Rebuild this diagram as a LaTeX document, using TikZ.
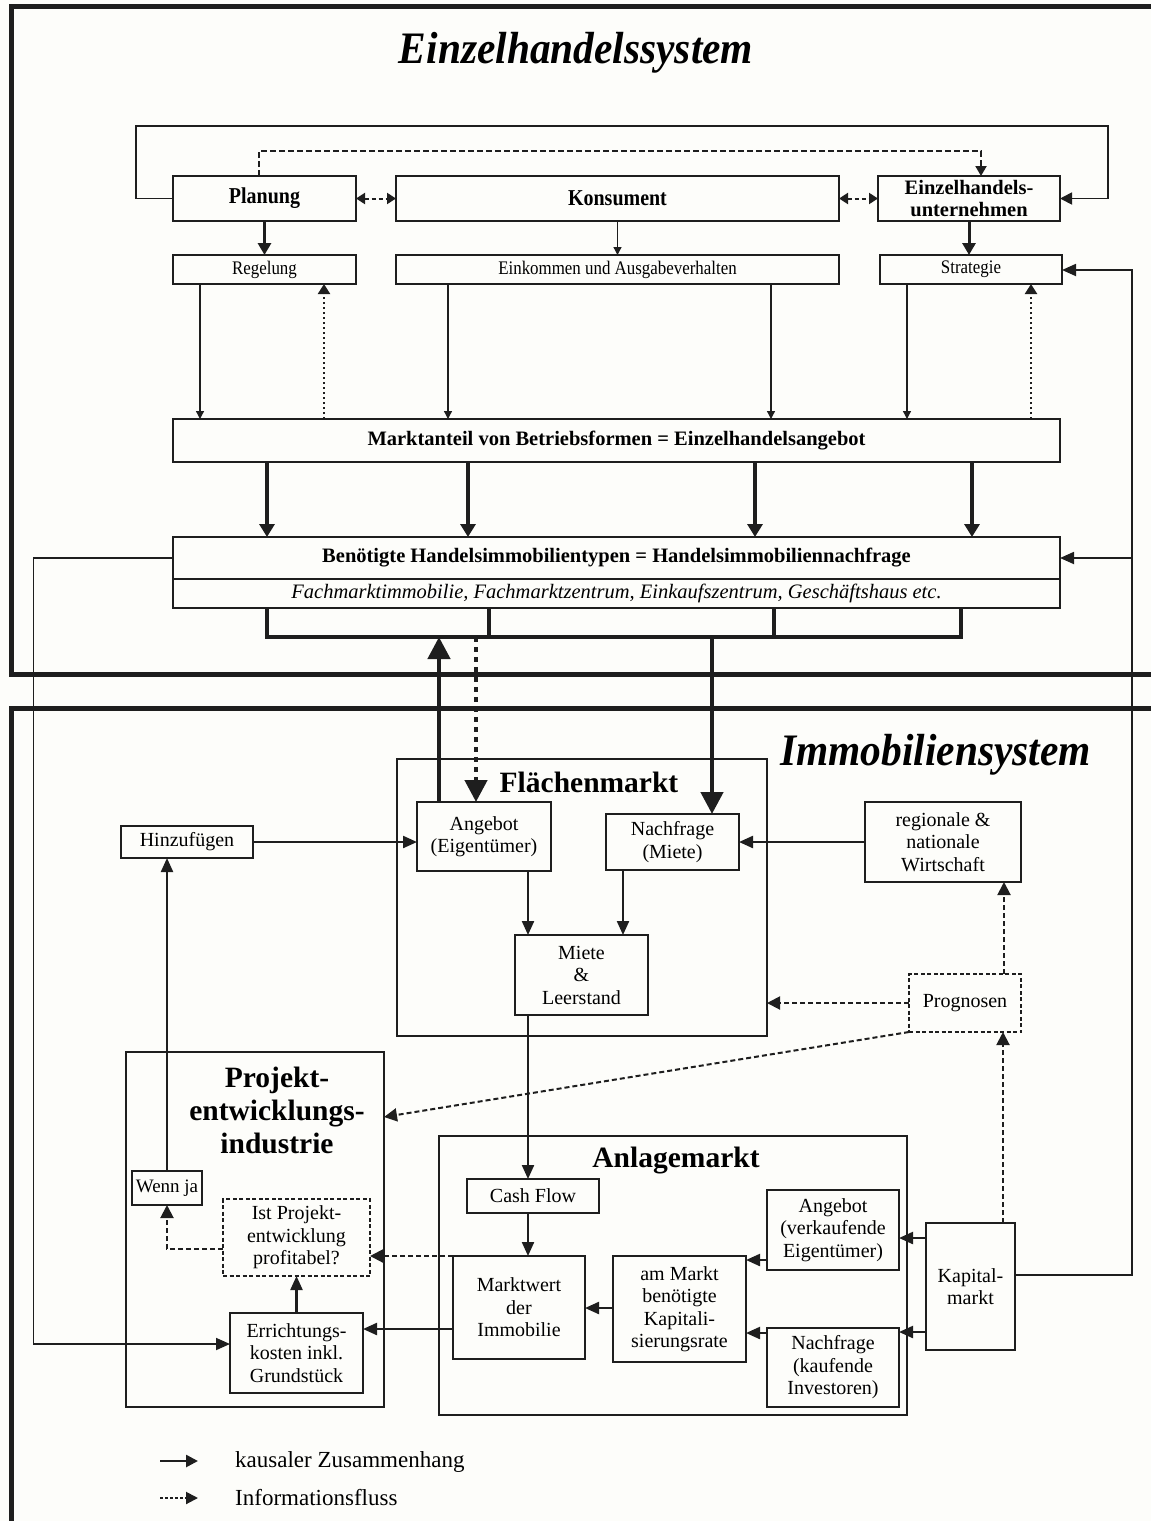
\documentclass[tikz,border=0pt]{standalone}
\usepackage{fontspec}
\usepackage{graphicx}
\setmainfont{Liberation Serif}
\usetikzlibrary{arrows.meta}
\definecolor{paper}{RGB}{253,253,250}
\definecolor{ink}{RGB}{30,30,30}
\newcommand\fBox{\fontsize{20}{22.5}\selectfont}
\newcommand\fSm{\fontsize{19.2}{21}\selectfont}
\newcommand\fHd{\fontsize{20.5}{21}\selectfont\bfseries}
\newcommand\fHdTwo{\fontsize{20.5}{22}\selectfont\bfseries}
\newcommand\fTop{\fontsize{22.7}{22}\selectfont\bfseries}
\newcommand\fIt{\fontsize{20.5}{23}\selectfont\itshape}
\newcommand\fSec{\fontsize{29.5}{33}\selectfont\bfseries}
\newcommand\fTitle{\fontsize{45}{50}\selectfont\bfseries\itshape}
\newcommand\fLeg{\fontsize{23}{26}\selectfont}
% narrow setting used for the top row of the retail system
\newcommand\narrow[1]{\scalebox{0.88}[1]{#1}}
% box from corner (x1,y1) to corner (x2,y2)
\newcommand\bx[7][]{\node[boxst,#1,minimum width={#5-#3},minimum height={#6-#4}] (#2) at ({(#3+#5)/2},{(#4+#6)/2}) {#7};}
\begin{document}
\begin{tikzpicture}[x=1pt,y=-1pt,
  boxst/.style={draw=ink, line width=1.4pt, inner sep=0pt, outer sep=0pt, align=center, font=\fBox},
  dbox/.style={dash pattern=on 4pt off 2.5pt},
  frm/.style={draw=ink, line width=4.5pt},
  cline/.style={draw=ink, line width=1.8pt},
  cthin/.style={draw=ink, line width=1.3pt, -{Triangle[length=8pt,width=8pt]}},
  cthick/.style={draw=ink, line width=3pt, -{Triangle[length=12pt,width=13pt]}},
  cmid/.style={draw=ink, line width=2.2pt, -{Triangle[length=14pt,width=12pt]}},
  chuge/.style={draw=ink, line width=4.5pt, -{Triangle[length=22pt,width=22pt]}},
  cbrk/.style={draw=ink, line width=4.5pt},
  cdot/.style={draw=ink, line width=2.2pt, dash pattern=on 2.5pt off 2.5pt, -{Triangle[length=10pt,width=12pt]}},
  cdash/.style={draw=ink, line width=2pt, dash pattern=on 5pt off 3pt, -{Triangle[length=13pt,width=13pt]}},
  cdd/.style={draw=ink, line width=2pt, dash pattern=on 4pt off 3pt, {Triangle[length=9pt,width=11pt]}-{Triangle[length=9pt,width=11pt]}},
]
\useasboundingbox (0,0) rectangle (1151,1521);
\fill[paper] (0,0) rectangle (1151,1521);

% ---------- frames of the two systems ----------
\draw[frm] (1160,6.5) -- (11.5,6.5) -- (11.5,674.5) -- (1160,674.5);
\draw[frm] (1160,708.5) -- (11.5,708.5) -- (11.5,1530);

% ---------- Einzelhandelssystem ----------
\node[font=\fTitle, anchor=base] (titleA) at (576,63) {\scalebox{0.92}[1]{Einzelhandelssystem}};

\bx[font=\fTop]{plan}{173}{176}{356}{221}{\narrow{Planung}}
\bx[font=\fTop]{kons}{396}{176}{839}{221}{\narrow{Konsument}}
\bx[font=\fHdTwo]{ehu}{878}{176}{1060}{221}{Einzelhandels-\\unternehmen}

\bx[font=\fSm]{regel}{173}{255}{356}{284}{\narrow{Regelung}}
\bx[font=\fSm]{eink}{396}{255}{839}{284}{\narrow{Einkommen und Ausgabeverhalten}}
\bx[font=\fSm]{strat}{880}{255}{1062}{284}{\narrow{Strategie}}

\bx[font=\fHd]{markt}{173}{419}{1060}{462}{Marktanteil von Betriebsformen = Einzelhandelsangebot}
\bx[font=\fHd]{benoet}{173}{537}{1060}{579}{Benötigte Handelsimmobilientypen = Handelsimmobiliennachfrage}
\bx[font=\fIt]{bentyp}{173}{579}{1060}{608}{Fachmarktimmobilie, Fachmarktzentrum, Einkaufszentrum, Geschäftshaus etc.}

% feedback loop around the top row
\draw[cline, -{Triangle[length=12pt,width=12pt]}] (plan.west) -- (136,198.5) -- (136,126) -- (1108,126) -- (1108,198.5) -- (ehu.east);
\draw[cdash, dash pattern=on 6pt off 3pt, -{Triangle[length=10pt,width=11pt]}] (plan.north -| 259,0) -- (259,151) -- (981,151) -- (ehu.north -| 981,0);
\draw[cdd] (plan.east) -- (kons.west);
\draw[cdd] (kons.east) -- (ehu.west);

\draw[cthick] (plan.south) -- (regel.north);
\draw[cthin] (kons.south) -- (eink.north);
\draw[cthick] (ehu.south) -- (ehu.south |- strat.north);

\draw[cthin] (regel.south -| 200,0) -- (markt.north -| 200,0);
\draw[cdot] (markt.north -| 324,0) -- (regel.south -| 324,0);
\draw[cthin] (eink.south -| 448,0) -- (markt.north -| 448,0);
\draw[cthin] (eink.south -| 771,0) -- (markt.north -| 771,0);
\draw[cthin] (strat.south -| 907,0) -- (markt.north -| 907,0);
\draw[cdot] (markt.north -| 1031,0) -- (strat.south -| 1031,0);

\foreach \xx in {267,468,755,972}
  \draw[cthick, line width=3.2pt, -{Triangle[length=13pt,width=15pt]}] (markt.south -| \xx,0) -- (benoet.north -| \xx,0);

% bracket below the demand box
\coordinate (brkL) at (267,637);
\coordinate (brkR) at (961,637);
\draw[cbrk] (bentyp.south -| brkL) -- (brkL) -- (brkR) -- (bentyp.south -| brkR);
\draw[cbrk] (bentyp.south -| 489,0) -- (brkL -| 489,0);
\draw[cbrk] (bentyp.south -| 774,0) -- (brkL -| 774,0);

% ---------- Immobiliensystem ----------
\node[font=\fTitle, anchor=base] (titleB) at (935.5,765) {\scalebox{0.92}[1]{Immobiliensystem}};

\bx{flaech}{397}{759}{767}{1036}{}
\node[font=\fSec, anchor=base] (flaechT) at (589,792) {Flächenmarkt};
\bx{angF}{417}{802}{551}{871}{Angebot\\(Eigentümer)}
\bx{nachF}{606}{814}{739}{870}{Nachfrage\\(Miete)}
\bx{miete}{515}{935}{648}{1015}{Miete\\\&\\Leerstand}
\bx{hinz}{121}{826}{253}{858}{Hinzufügen}
\bx{wirt}{865}{802}{1021}{882}{regionale \&\\nationale\\Wirtschaft}
\bx[dbox]{progn}{909}{974}{1021}{1032}{Prognosen}

\bx{projekt}{126}{1052}{384}{1407}{}
\node[font=\fSec, anchor=base] (projT1) at (277,1087) {Projekt-};
\node[font=\fSec, anchor=base] (projT2) at (277,1120) {entwicklungs-};
\node[font=\fSec, anchor=base] (projT3) at (277,1153) {industrie};
\bx[font=\fontsize{19}{21}\selectfont]{wenn}{132}{1171}{202}{1205}{Wenn ja}
\bx[dbox]{ist}{223}{1199}{370}{1276}{Ist Projekt-\\entwicklung\\profitabel?}
\bx{erricht}{230}{1313}{363}{1393}{Errichtungs-\\kosten inkl.\\Grundstück}

\bx{anlage}{439}{1136}{907}{1415}{}
\node[font=\fSec, anchor=base] (anlageT) at (676,1167) {Anlagemarkt};
\bx{cash}{467}{1179}{599}{1213}{Cash Flow}
\bx{mwert}{453}{1256}{585}{1359}{Marktwert\\der\\Immobilie}
\bx{kapr}{613}{1256}{746}{1362}{am Markt\\benötigte\\Kapitali-\\sierungsrate}
\bx{angA}{767}{1190}{899}{1270}{Angebot\\(verkaufende\\Eigentümer)}
\bx{nachA}{767}{1328}{899}{1407}{Nachfrage\\(kaufende\\Investoren)}
\bx{kapm}{926}{1223}{1015}{1350}{Kapital-\\markt}

% links between the two systems
\draw[chuge] (angF.north -| 439,0) -- (brkL -| 439,0);
\draw[chuge, dash pattern=on 5pt off 5pt] (brkL -| 476,0) -- (angF.north -| 476,0);
\draw[chuge] (brkL -| 712,0) -- (nachF.north -| 712,0);

% space market
\draw[cmid] (hinz.east) -- (hinz.east -| angF.west);
\draw[cmid] (wirt.west) -- (wirt.west -| nachF.east);
\draw[cmid] (angF.south -| 528,0) -- (miete.north -| 528,0);
\draw[cmid] (nachF.south -| 623,0) -- (miete.north -| 623,0);
\draw[cdash] (progn.west) -- (progn.west -| flaech.east);
\draw[cdash] (progn.north -| 1004,0) -- (wirt.south -| 1004,0);
\draw[cdash] (progn.south west) -- (projekt.east |- 0,1117);
\draw[cdash] (kapm.north -| 1003,0) -- (progn.south -| 1003,0);

% asset market
\draw[cmid] (miete.south -| 528,0) -- (cash.north -| 528,0);
\draw[cmid] (cash.south -| 528,0) -- (mwert.north -| 528,0);
\draw[cmid] (kapr.west |- 0,1308) -- (mwert.east |- 0,1308);
\draw[cmid] (angA.west |- 0,1260) -- (kapr.east |- 0,1260);
\draw[cmid] (nachA.west |- 0,1333) -- (kapr.east |- 0,1333);
\draw[cmid] (kapm.west |- 0,1238) -- (angA.east |- 0,1238);
\draw[cmid] (kapm.west |- 0,1332) -- (nachA.east |- 0,1332);
\draw[cmid, line width=1.8pt] (kapm.east |- 0,1275) -- (1132,1275) -- (1132,270) -- (strat.east |- 0,270);
\draw[cmid, line width=1.8pt] (1132,558) -- (benoet.east);

% project development
\draw[cmid] (mwert.west |- 0,1329) -- (erricht.east |- 0,1329);
\draw[cdash] (mwert.north west) -- (mwert.north west -| ist.east);
\draw[cmid] (erricht.north) -- (ist.south -| erricht.north);
\draw[cdash] (ist.west |- 0,1249) -- (167,1249) -- (wenn.south);
\draw[cmid] (wenn.north) -- (hinz.south -| wenn.north);
\draw[cmid, line width=1.8pt] (benoet.west) -- (33.5,558) -- (33.5,1344) -- (erricht.west |- 0,1344);

% legend
\coordinate (lgA1) at (160,1461);
\coordinate (lgA2) at (198,1461);
\coordinate (lgB1) at (160,1498);
\coordinate (lgB2) at (198,1498);
\draw[cmid, line width=2.6pt, -{Triangle[length=12pt,width=12pt]}] (lgA1) -- (lgA2);
\draw[cdash, dash pattern=on 3pt off 2pt, -{Triangle[length=12pt,width=12pt]}] (lgB1) -- (lgB2);
\node[font=\fLeg, anchor=base west, inner sep=0pt] (lgAt) at (235,1467) {kausaler Zusammenhang};
\node[font=\fLeg, anchor=base west, inner sep=0pt] (lgBt) at (235,1505) {Informationsfluss};
\end{tikzpicture}
\end{document}
